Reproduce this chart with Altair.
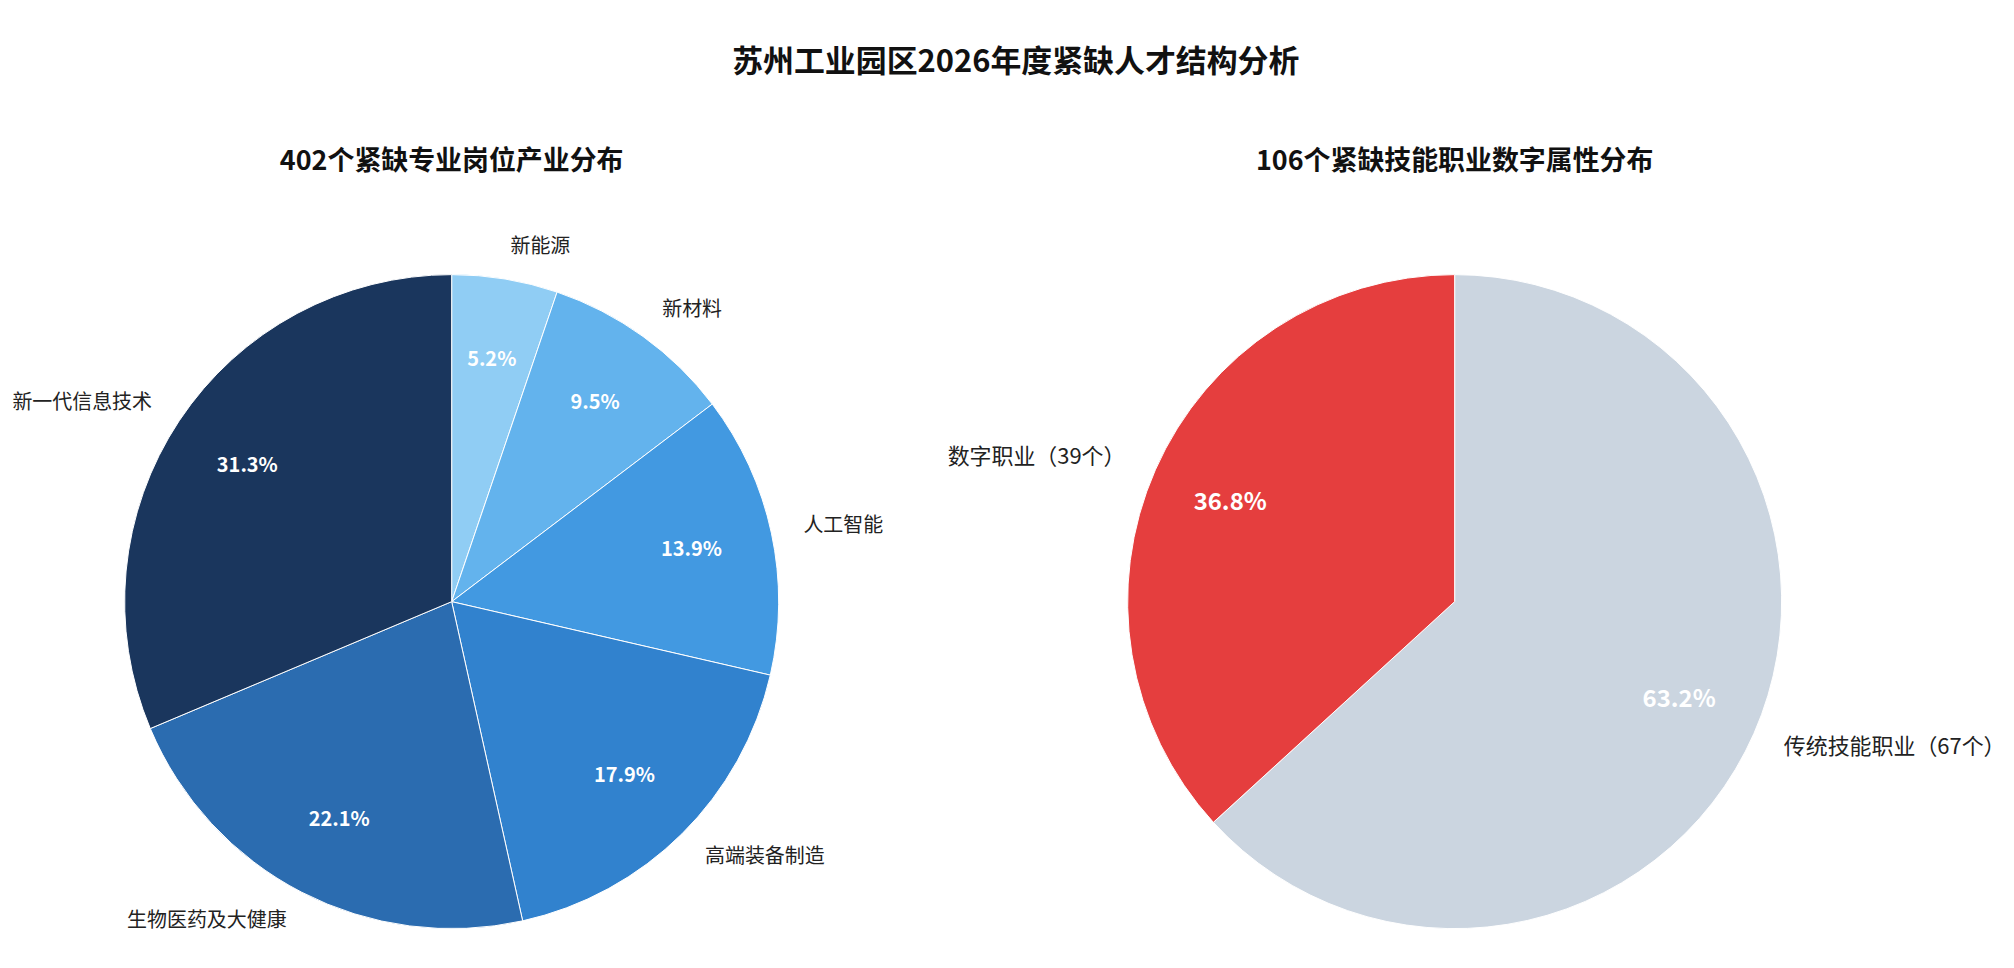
import altair as alt
import pandas as pd

FONT = "Noto Sans CJK SC"

# 402 scarce professional posts by industry (clockwise from 12 o'clock)
industry_names = ["新能源", "新材料", "人工智能", "高端装备制造", "生物医药及大健康", "新一代信息技术"]
industry_counts = [21, 38, 56, 72, 89, 126]
industry_colors = ["#90CDF4", "#63B3ED", "#4299E1", "#3182CE", "#2B6CB0", "#1A365D"]

# 106 scarce skilled occupations by digital attribute
job_names = ["传统技能职业", "数字职业"]
job_counts = [67, 39]
job_colors = ["#CBD5E0", "#E53E3E"]

RADIUS = 328


def pie(names, counts, colors, labels, title, label_size, pct_size, title_offset):
    df = pd.DataFrame({
        "name": names,
        "count": counts,
        "label": labels,
        "idx": list(range(len(names))),
    })
    base = (
        alt.Chart(df)
        .transform_joinaggregate(total="sum(count)")
        .transform_window(cum="sum(count)", sort=[alt.SortField("idx")], frame=[None, 0])
        .transform_calculate(
            mid="(datum.cum - datum.count / 2) / datum.total",
            pct="format(datum.count / datum.total, '.1%')",
        )
    )
    mid_theta = alt.Theta("mid:Q", scale=alt.Scale(domain=[0, 1]), stack=None)

    wedges = base.mark_arc(radius=RADIUS, stroke="white", strokeWidth=1).encode(
        theta=alt.Theta("count:Q", stack=True),
        order=alt.Order("idx:Q"),
        color=alt.Color("name:N", scale=alt.Scale(domain=names, range=colors), legend=None),
    )
    pct = base.mark_text(
        radius=RADIUS * 0.75, font=FONT, fontSize=pct_size, fontWeight="bold",
        color="white", align="center", baseline="middle",
    ).encode(theta=mid_theta, text="pct:N")
    right_side = base.transform_filter("datum.mid < 0.5").mark_text(
        radius=RADIUS * 1.1, font=FONT, fontSize=label_size, color="#222222",
        align="left", baseline="middle",
    ).encode(theta=mid_theta, text="label:N")
    left_side = base.transform_filter("datum.mid >= 0.5").mark_text(
        radius=RADIUS * 1.1, font=FONT, fontSize=label_size, color="#222222",
        align="right", baseline="middle",
    ).encode(theta=mid_theta, text="label:N")

    # title offset counts from the view's bounds, which outer labels can push up
    return (
        alt.layer(wedges, pct, right_side, left_side)
        .resolve_scale(theta="independent")
        .properties(
            width=890,
            height=700,
            title=alt.TitleParams(
                title, font=FONT, fontSize=27, fontWeight="bold",
                color="#111111", anchor="middle", frame="group", offset=title_offset,
            ),
        )
    )


left = pie(
    industry_names, industry_counts, industry_colors, industry_names,
    "402个紧缺专业岗位产业分布", 20, 20, 61,
)
job_labels = [f"{n}（{c}个）" for n, c in zip(job_names, job_counts)]
right = pie(
    job_names, job_counts, job_colors, job_labels,
    "106个紧缺技能职业数字属性分布", 22, 24, 77,
)

chart = (
    alt.hconcat(left, right, spacing=116, bounds="flush")
    .resolve_scale(color="independent", theta="independent")
    .properties(
        title=alt.TitleParams(
            "苏州工业园区2026年度紧缺人才结构分析", font=FONT, fontSize=31,
            fontWeight="bold", color="#111111", anchor="middle", offset=69, dx=9,
        ),
        padding={"left": 0, "top": 38, "right": 0, "bottom": 5},
    )
    .configure_view(stroke=None)
)

chart.save("out.html", embed_options={"renderer": "svg", "actions": False})
